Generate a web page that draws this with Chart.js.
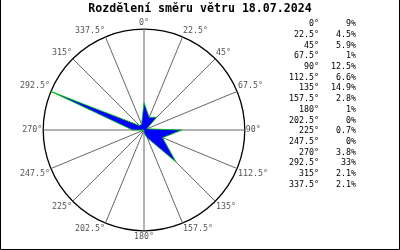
<!DOCTYPE html>
<html>
<head>
<meta charset="utf-8">
<script src="https://cdn.jsdelivr.net/npm/chart.js@4/dist/chart.umd.min.js"></script>
<style>
  html, body { margin: 0; padding: 0; background: #fff; }
  #wrap { position: relative; width: 400px; height: 250px; }
  canvas { display: block; }
</style>
</head>
<body>
<div id="wrap"><canvas id="c" width="400" height="250"></canvas></div>
<script>
const titleText = 'Rozdělení směru větru 18.07.2024';
const directions = ['0°', '22.5°', '45°', '67.5°', '90°', '112.5°', '135°', '157.5°', '180°', '202.5°', '225°', '247.5°', '270°', '292.5°', '315°', '337.5°'];
const percentages = [9, 4.5, 5.9, 1, 12.5, 6.6, 14.9, 2.8, 1, 0, 0.7, 0, 3.8, 33, 2.1, 2.1];
const scaleMax = 33;

const MONO = '"DejaVu Sans Mono", "Liberation Mono", monospace';

const framePlugin = {
  id: 'frame',
  afterDraw(chart) {
    const ctx = chart.ctx;
    ctx.save();
    ctx.strokeStyle = '#000';
    ctx.lineWidth = 1;
    ctx.beginPath();
    ctx.moveTo(0.5, 0);
    ctx.lineTo(0.5, 249.5);
    ctx.lineTo(399.5, 249.5);
    ctx.lineTo(399.5, 0);
    ctx.stroke();
    ctx.fillStyle = '#000';
    ctx.font = 'bold 11.6px ' + MONO;
    ctx.textAlign = 'center';
    ctx.textBaseline = 'middle';
    ctx.fillText(titleText, 200, 9);
    ctx.font = '8.3px ' + MONO;
    ctx.textAlign = 'right';
    for (let i = 0; i < directions.length; i++) {
      const y = 24 + i * 10.71;
      ctx.fillText(directions[i], 319, y);
      ctx.fillText(percentages[i] + '%', 356, y);
    }
    ctx.restore();
  }
};

new Chart(document.getElementById('c'), {
  type: 'radar',
  data: {
    labels: directions,
    datasets: [{
      data: percentages,
      backgroundColor: '#0000ff',
      borderColor: '#00d000',
      borderWidth: 0.8,
      pointRadius: 0,
      fill: true
    }]
  },
  options: {
    responsive: false,
    animation: false,
    layout: { padding: { top: 11, bottom: -2, left: 20, right: 131 } },
    plugins: { legend: { display: false }, title: { display: false }, tooltip: { enabled: false } },
    elements: { line: { tension: 0 } },
    scales: {
      r: {
        min: 0,
        max: scaleMax,
        startAngle: 0,
        ticks: { display: false, stepSize: scaleMax },
        grid: {
          circular: true,
          color: (c) => (c.tick && c.tick.value === scaleMax) ? '#000' : 'rgba(0,0,0,0)',
          lineWidth: 1.3
        },
        angleLines: { color: '#666', lineWidth: 1 },
        pointLabels: {
          color: '#555',
          padding: 1,
          font: { family: MONO, size: 8.3 }
        }
      }
    }
  },
  plugins: [framePlugin]
});
</script>
</body>
</html>
